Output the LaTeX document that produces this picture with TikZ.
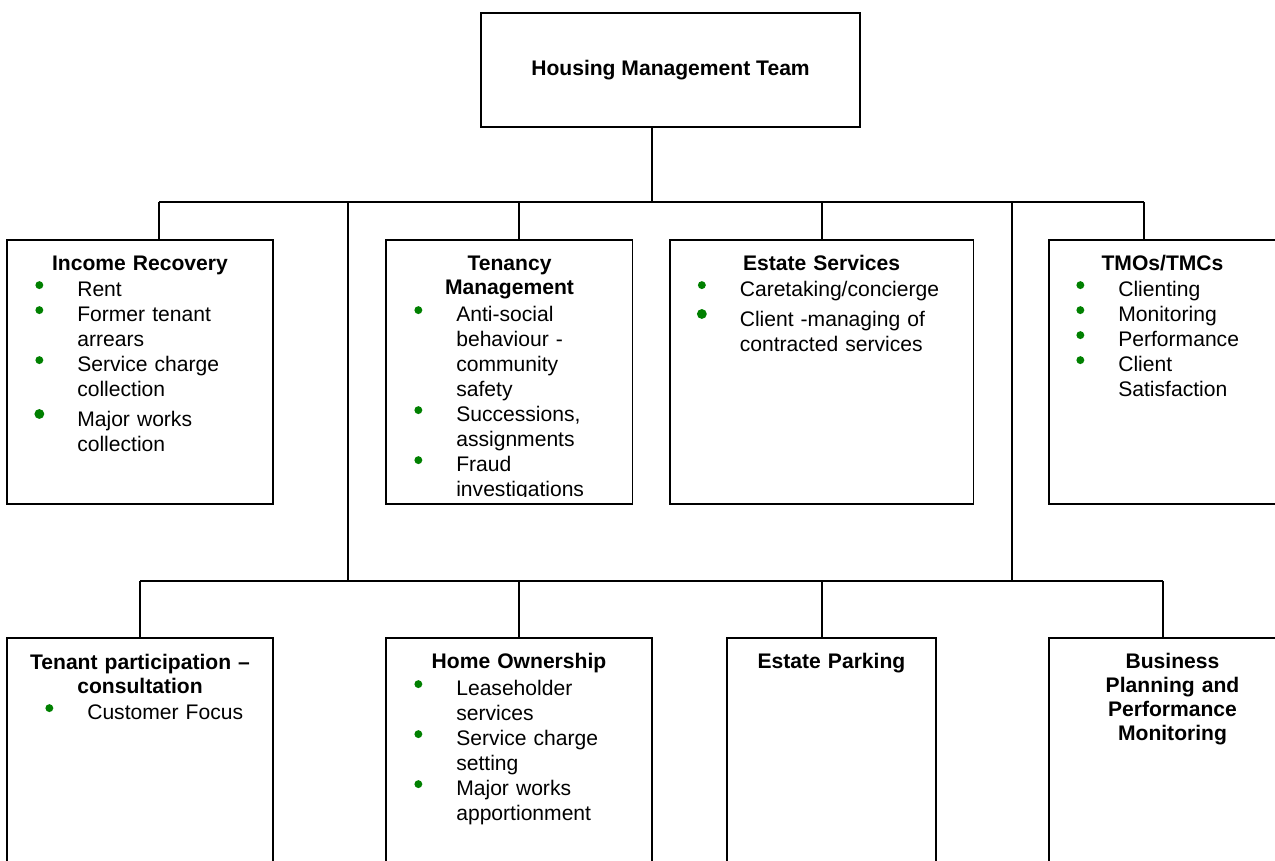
\documentclass[tikz,border=0pt]{standalone}
\usepackage{fontspec}
\setmainfont{Liberation Sans}
\definecolor{bulletgreen}{RGB}{0,128,0}
\newlength\bulw
\setlength\bulw{21.6pt}
% green bullets, a continuation indent and a slightly larger bullet
\newcommand\bul{\makebox[\bulw][l]{\makebox[0pt]{\tikz[baseline=0pt, x=1pt, y=1pt]\fill[bulletgreen] (0,6.2) circle (2.25);}}}
\newcommand\bigbul{\makebox[\bulw][l]{\makebox[0pt]{\tikz[baseline=0pt, x=1pt, y=1pt]\fill[bulletgreen] (0,7.4) circle (2.8);}}}
\newcommand\cont{\hspace*{\bulw}}

\begin{document}
\begin{tikzpicture}[x=0.02cm, y=-0.02cm,
    unit/.style={draw, line width=1pt, inner sep=0pt, outer sep=0pt},
    link/.style={line width=0.75pt},
    unithead/.style={font=\fontsize{12pt}{13.8pt}\selectfont\bfseries, text width=6cm, align=center, anchor=base, inner sep=0pt},
    unitlist/.style={font=\fontsize{12pt}{14.23pt}\selectfont, text width=7cm, align=left, anchor=base west, inner sep=0pt}]
    \useasboundingbox (0,0) rectangle (1275,860);
    \clip (0,0) rectangle (1275,860);

    \node[unit, minimum width=7.58cm, minimum height=2.28cm, font=\fontsize{12pt}{14pt}\selectfont\bfseries] (hmt) at (670.5,70) {Housing Management Team};

    % first row of units
    \node[unit, minimum width=5.31cm, minimum height=5.28cm] (inc) at (140,372) {};
    \node[unit, minimum width=4.93cm, minimum height=5.28cm] (ten) at (509.25,372) {};
    \node[unit, minimum width=6.07cm, minimum height=5.28cm] (est) at (821.75,372) {};
    \node[unit, minimum width=4.64cm, minimum height=5.28cm] (tmo) at (1165,372) {};

    % second row, running off the bottom
    \node[unit, minimum width=5.31cm, minimum height=4.84cm] (tpc) at (140,759) {};
    \node[unit, minimum width=5.32cm, minimum height=4.84cm] (hom) at (519,759) {};
    \node[unit, minimum width=4.18cm, minimum height=4.84cm] (park) at (831.5,759) {};
    \node[unit, minimum width=4.94cm, minimum height=4.84cm] (bpm) at (1172.5,759) {};

    % the two bus lines
    \coordinate (bus) at (652,202);
    \coordinate (b-inc) at (159,202);
    \coordinate (b-lt) at (348,202);
    \coordinate (b-ten) at (519,202);
    \coordinate (b-est) at (822,202);
    \coordinate (b-rt) at (1012,202);
    \coordinate (b-tmo) at (1144,202);
    \coordinate (c-tpc) at (140,581);
    \coordinate (c-lt) at (348,581);
    \coordinate (c-hom) at (519,581);
    \coordinate (c-park) at (822,581);
    \coordinate (c-rt) at (1012,581);
    \coordinate (c-bpm) at (1163,581);

    \draw[link] (hmt.south -| bus) -- (bus);
    \draw[link] (b-inc) -- (b-tmo);
    \draw[link] (c-tpc) -- (c-bpm);
    \draw[link] (b-lt) -- (c-lt) (b-rt) -- (c-rt);
    \foreach \n in {inc,ten,est,tmo}
        \draw[link] (b-\n) -- (b-\n |- \n.north);
    \foreach \n in {tpc,hom,park,bpm}
        \draw[link] (c-\n) -- (c-\n |- \n.north);

    % headings
    \node[unithead] (inc-h) at (140,270) {Income Recovery};
    \node[unithead] (ten-h) at (509.5,270) {Tenancy\\Management};
    \node[unithead] (est-h) at (821.6,270) {Estate Services};
    \node[unithead] (tmo-h) at (1162.5,270) {TMOs/TMCs};
    \node[unithead] (tpc-h) at (140,669) {Tenant participation --\\consultation};
    \node[unithead] (hom-h) at (519,668) {Home Ownership};
    \node[unithead] (park-h) at (831.5,668) {Estate Parking};
    \node[unithead] (bpm-h) at (1172.5,668) {Business\\Planning and\\Performance\\Monitoring};

    % bullet lists
    \node[unitlist] (inc-l) at (39,296) {\bul Rent\\
        \bul Former tenant\\
        \cont arrears\\
        \bul Service charge\\
        \cont collection\\[3.4pt]
        \bigbul Major works\\
        \cont collection};
    \begin{scope}
        \clip (ten.north west) rectangle (ten.east |- 0,496);% text frame cuts the last line
        \node[unitlist] (ten-l) at (418,321) {\bul Anti-social\\
            \cont behaviour -\\
            \cont community\\
            \cont safety\\
            \bul Successions,\\
            \cont assignments\\
            \bul Fraud\\
            \cont investigations};
    \end{scope}
    \node[unitlist] (est-l) at (701.5,296) {\bul Caretaking/concierge\\[3.4pt]
        \bigbul Client -managing of\\
        \cont contracted services};
    \node[unitlist] (tmo-l) at (1080,296) {\bul Clienting\\
        \bul Monitoring\\
        \bul Performance\\
        \bul Client\\
        \cont Satisfaction};
    \node[unitlist] (tpc-l) at (49,719) {\bul Customer Focus};
    \node[unitlist] (hom-l) at (418,695) {\bul Leaseholder\\
        \cont services\\
        \bul Service charge\\
        \cont setting\\
        \bul Major works\\
        \cont apportionment};
\end{tikzpicture}
\end{document}
